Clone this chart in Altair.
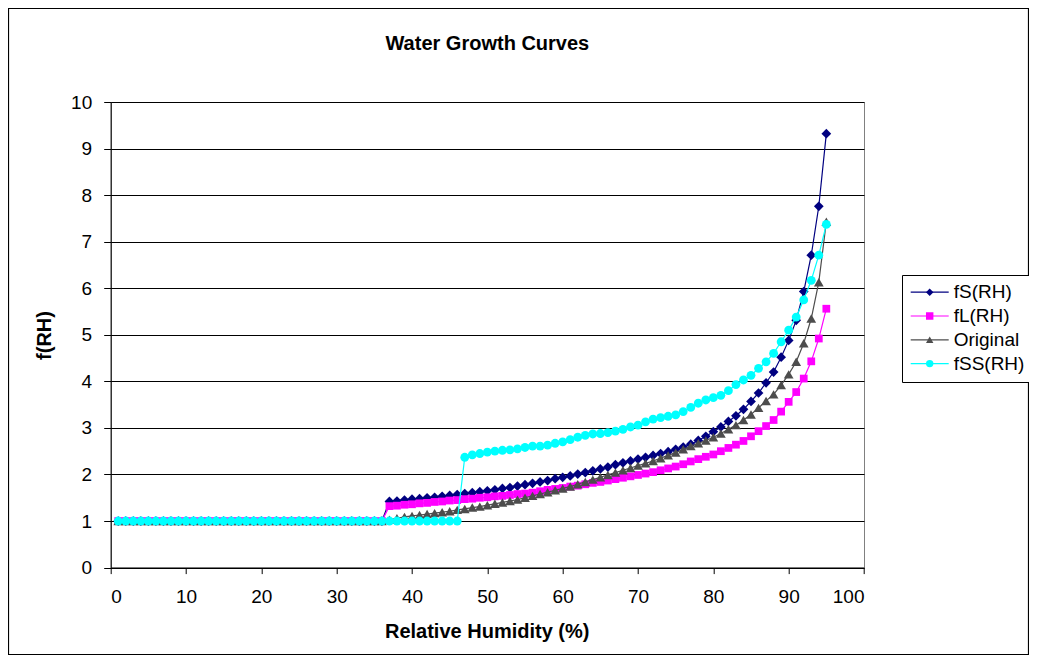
import altair as alt
import pandas as pd

# ---- data ----
rh = list(range(1, 96))  # 1 .. 95 %

fs_tail = [1.42, 1.43, 1.45, 1.47, 1.48, 1.50, 1.51, 1.53, 1.55, 1.57,
           1.59, 1.61, 1.63, 1.65, 1.67, 1.70, 1.72, 1.75, 1.78, 1.81,
           1.84, 1.87, 1.91, 1.94, 1.97, 2.01, 2.04, 2.08, 2.12, 2.16,
           2.21, 2.25, 2.29, 2.33, 2.37, 2.41, 2.45, 2.49, 2.54, 2.59,
           2.65, 2.73, 2.82, 2.92, 3.02, 3.14, 3.26, 3.40, 3.57, 3.75,
           3.97, 4.20, 4.52, 4.88, 5.31, 5.93, 6.71, 7.76, 9.32]
fl_tail = [1.32, 1.33, 1.35, 1.36, 1.38, 1.39, 1.41, 1.42, 1.44, 1.45,
           1.47, 1.48, 1.50, 1.51, 1.53, 1.54, 1.56, 1.58, 1.59, 1.61,
           1.64, 1.67, 1.69, 1.71, 1.74, 1.76, 1.79, 1.82, 1.84, 1.87,
           1.90, 1.93, 1.96, 1.99, 2.02, 2.05, 2.09, 2.13, 2.17, 2.22,
           2.28, 2.33, 2.38, 2.43, 2.50, 2.57, 2.64, 2.72, 2.82, 2.93,
           3.04, 3.17, 3.35, 3.56, 3.77, 4.06, 4.43, 4.92, 5.56]
orig_tail = [1.03, 1.06, 1.09, 1.11, 1.13, 1.15, 1.17, 1.19, 1.21, 1.24,
             1.26, 1.29, 1.31, 1.34, 1.37, 1.40, 1.43, 1.46, 1.50, 1.54,
             1.58, 1.62, 1.66, 1.70, 1.74, 1.79, 1.84, 1.89, 1.94, 1.99,
             2.04, 2.09, 2.14, 2.19, 2.24, 2.29, 2.35, 2.41, 2.47, 2.54,
             2.61, 2.67, 2.73, 2.80, 2.88, 2.97, 3.06, 3.17, 3.29, 3.43,
             3.58, 3.72, 3.92, 4.15, 4.42, 4.82, 5.35, 6.13, 7.43]
fss_tail = [2.37, 2.42, 2.45, 2.48, 2.50, 2.52, 2.53, 2.55, 2.58, 2.61,
            2.61, 2.63, 2.67, 2.70, 2.75, 2.80, 2.84, 2.87, 2.88, 2.90,
            2.93, 2.97, 3.02, 3.06, 3.13, 3.19, 3.22, 3.25, 3.28, 3.35,
            3.44, 3.53, 3.60, 3.65, 3.70, 3.80, 3.93, 4.03, 4.13, 4.28,
            4.42, 4.60, 4.85, 5.10, 5.38, 5.75, 6.17, 6.71, 7.37]

fs_vals = [1.0] * 36 + fs_tail
fl_vals = [1.0] * 36 + fl_tail
orig_vals = [1.0] * 36 + orig_tail
fss_vals = [1.0] * 46 + fss_tail

series = ["fS(RH)", "fL(RH)", "Original", "fSS(RH)"]
marker_keys = ["m1", "m2", "m3", "m4"]
colors = ["#000080", "#FF00FF", "#4D4D4D", "#00FFFF"]
shapes = ["diamond", "square", "triangle-up", "circle"]
marker_sizes = [95, 60, 95, 78]
x_ticks = list(range(0, 101, 10))
y_ticks = list(range(0, 11))

rows = []
for name, key, vals in zip(series, marker_keys, [fs_vals, fl_vals, orig_vals, fss_vals]):
    for x, v in zip(rh, vals):
        rows.append({"series": name, "marker": key, "rh": x, "f": v})
df = pd.DataFrame(rows)

FONT = "Liberation Sans"
LX, LY = 791.3, 173

x_enc = alt.X("rh:Q", scale=alt.Scale(domain=[0, 100], nice=False, zero=False),
              axis=alt.Axis(values=x_ticks, title="Relative Humidity (%)", grid=False,
                            titleX=376, titleY=64, titleBaseline="middle",
                            labelPadding=14, tickSize=6))
y_enc = alt.Y("f:Q", scale=alt.Scale(domain=[0, 10], nice=False),
              axis=alt.Axis(values=y_ticks, title="f(RH)", grid=True,
                            titleX=-66, titleY=233, titleBaseline="middle",
                            labelPadding=12, tickSize=7))

line_legend = alt.Legend(title=None, orient="none", legendX=LX, legendY=LY,
                         symbolType="stroke", symbolSize=1444, symbolStrokeWidth=1.2,
                         clipHeight=19, rowPadding=3.8, padding=7.7,
                         labelFont=FONT, labelFontSize=19, labelColor="black",
                         labelOffset=4, strokeColor="black", fillColor="white")
shape_legend = alt.Legend(title=None, orient="none", legendX=LX, legendY=LY,
                          symbolSize=55, symbolStrokeWidth=0, symbolOffset=10.5,
                          clipHeight=19, rowPadding=3.8, padding=7.7,
                          labelFont=FONT, labelFontSize=19, labelExpr="''")

stroke_enc = alt.Stroke("series:N", scale=alt.Scale(domain=series, range=colors),
                        legend=line_legend)
fill_enc = alt.Fill("marker:N", scale=alt.Scale(domain=marker_keys, range=colors),
                    legend=shape_legend)
shape_enc = alt.Shape("marker:N", scale=alt.Scale(domain=marker_keys, range=shapes),
                      legend=shape_legend)

frame = alt.Chart(pd.DataFrame({"k": [0]})).mark_rect(
    filled=False, stroke="black", strokeWidth=1.2
).encode(x=alt.value(-102.2), x2=alt.value(917.8), y=alt.value(-93.5), y2=alt.value(552.5))

layers = [frame]
base = alt.Chart(df)
for name, msize in zip(series, marker_sizes):
    sub = base.transform_filter(alt.datum.series == name)
    layers.append(sub.mark_line(strokeWidth=1.2).encode(x=x_enc, y=y_enc, stroke=stroke_enc))
    layers.append(sub.mark_point(filled=True, opacity=1, strokeWidth=0).encode(
        x=x_enc, y=y_enc, fill=fill_enc, shape=shape_enc, size=alt.value(msize)))

chart = alt.layer(*layers).properties(
    width=753.3, height=465.6,
    autosize=alt.AutoSizeParams(type="none"),
    padding={"left": 102.7, "top": 94, "right": 165, "bottom": 87.4},
    background="white",
    title=alt.TitleParams("Water Growth Curves", font=FONT, fontSize=20, fontWeight="bold",
                          anchor="middle", frame="group", offset=0, dy=62,
                          baseline="alphabetic", color="black"),
).configure_view(stroke="#808080", strokeWidth=1).configure_axis(
    labelFont=FONT, labelFontSize=19, labelColor="black",
    titleFont=FONT, titleFontSize=20, titleFontWeight="bold", titleColor="black",
    domainColor="black", tickColor="black", gridColor="black", gridWidth=1,
    domainWidth=1, tickWidth=1
)

chart.save("out.html", embed_options={"renderer": "svg", "actions": False})
